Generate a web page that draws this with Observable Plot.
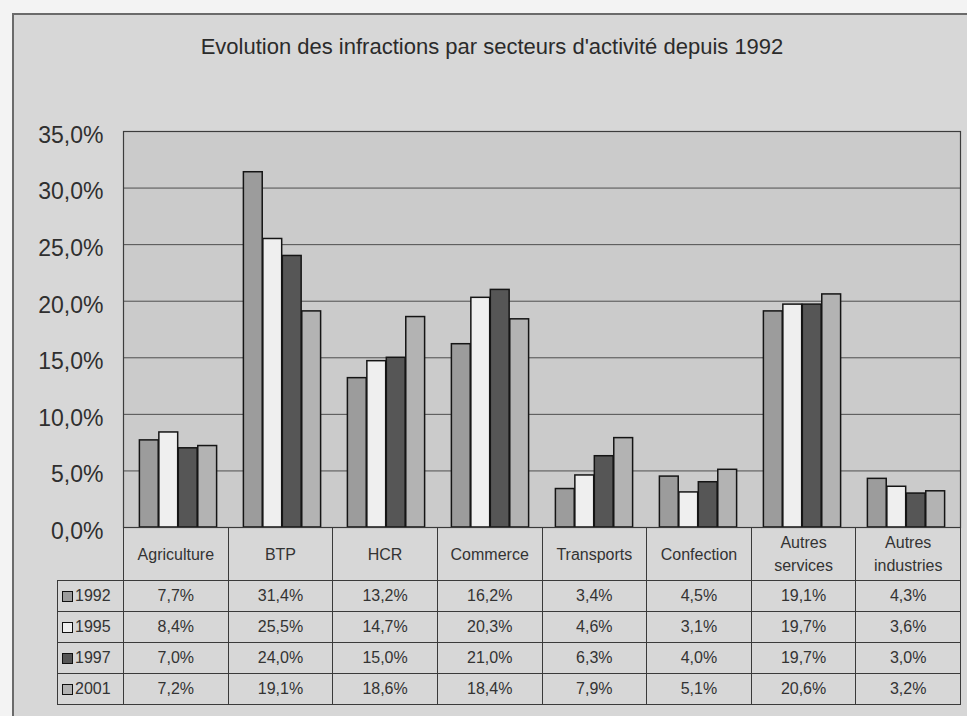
<!DOCTYPE html>
<html>
<head>
<meta charset="utf-8">
<script src="https://cdn.jsdelivr.net/npm/d3@7"></script>
<script src="https://cdn.jsdelivr.net/npm/@observablehq/plot@0.6"></script>
<style>
  html, body { margin: 0; padding: 0; }
  body { width: 967px; height: 716px; background: #f3f3f3; position: relative; overflow: hidden;
         font-family: "Liberation Sans", Arial, sans-serif; }
  #frame { position: absolute; left: 12px; top: 13px; width: 960px; height: 710px;
           background: #d7d7d7; border-left: 2px solid #6a6a6a; border-top: 2px solid #6a6a6a; }
  #title { position: absolute; left: 0; width: 984px; top: 34px; text-align: center;
           font-size: 22px; color: #2b2b2b; }
  #plot { position: absolute; left: 0; top: 0; }
  #table { position: absolute; left: 57px; top: 527px; border-collapse: collapse; table-layout: fixed;
           font-size: 16px; color: #333; }
  #table td { border: 1px solid #3a3a3a; text-align: center; padding: 0; overflow: hidden; }
  #table tr.head td { height: 52px; line-height: 23px; vertical-align: middle; }
  #table tr.row td { height: 30px; }
  #table td.leg { text-align: left; padding-left: 4px; white-space: nowrap; }
  #table .sw { display: inline-block; width: 9px; height: 9px; border: 1.5px solid #111;
               margin-right: 2px; vertical-align: -1px; }
</style>
</head>
<body>
<div id="frame"></div>
<div id="title">Evolution des infractions par secteurs d'activité depuis 1992</div>
<div id="plot"></div>
<table id="table"></table>
<script>
// ---- data ----
const sectors = ["Agriculture", "BTP", "HCR", "Commerce", "Transports", "Confection", "Autres services", "Autres industries"];
const years = ["1992", "1995", "1997", "2001"];
const v1992 = [7.7, 31.4, 13.2, 16.2, 3.4, 4.5, 19.1, 4.3];
const v1995 = [8.4, 25.5, 14.7, 20.3, 4.6, 3.1, 19.7, 3.6];
const v1997 = [7.0, 24.0, 15.0, 21.0, 6.3, 4.0, 19.7, 3.0];
const v2001 = [7.2, 19.1, 18.6, 18.4, 7.9, 5.1, 20.6, 3.2];
const yTicks = [0, 5, 10, 15, 20, 25, 30, 35];

// ---- styles ----
const seriesValues = [v1992, v1995, v1997, v2001];
const colors = ["#9c9c9c", "#efefef", "#565656", "#b3b3b3"];
const fmt = d => d.toFixed(1).replace(".", ",") + "%";

const rows = [];
years.forEach((yr, i) => sectors.forEach((s, j) => rows.push({sector: s, year: yr, value: seriesValues[i][j]})));

const W = 967, H = 552, ML = 123, MR = 7, MT = 131, MB = 25;
const bw = (W - ML - MR) / sectors.length;
const barW = bw * 0.186;
const off = (bw - 4 * barW) / 2;

const chart = Plot.plot({
  width: W, height: H,
  marginLeft: ML, marginRight: MR, marginTop: MT, marginBottom: MB,
  style: {background: "transparent", fontFamily: "'Liberation Sans', Arial, sans-serif", fontSize: "23px", color: "#2f2f2f", overflow: "visible"},
  x: {type: "band", domain: sectors, padding: 0, axis: null},
  y: {domain: [0, 35], axis: null},
  marks: [
    Plot.frame({fill: "#cbcbcb"}),
    Plot.ruleY(yTicks.filter(t => t > 0 && t < 35), {stroke: "#4e4e4e", strokeWidth: 1}),
    ...years.map((yr, i) => Plot.barY(rows.filter(r => r.year === yr), {
      x: "sector", y: "value", fill: colors[i], stroke: "#151515", strokeWidth: 1.5,
      insetLeft: off + i * barW, insetRight: bw - off - (i + 1) * barW
    })),
    Plot.frame({stroke: "#3c3c3c", strokeWidth: 1.2}),
    Plot.axisY({ticks: yTicks, tickFormat: fmt, tickSize: 0, tickPadding: 20, dy: 4, label: null, fontSize: 23})
  ]
});
document.getElementById("plot").appendChild(chart);

// ---- data table below the chart ----
const table = d3.select("#table");
const cg = table.append("colgroup");
cg.append("col").style("width", "66px");
sectors.forEach(() => cg.append("col").style("width", bw + "px"));
const head = table.append("tr").attr("class", "head");
head.append("td").style("border-top", "none").style("border-left", "none");
sectors.forEach(s => head.append("td").text(s));
years.forEach((yr, i) => {
  const tr = table.append("tr").attr("class", "row");
  const lc = tr.append("td").attr("class", "leg");
  lc.append("span").attr("class", "sw").style("background", colors[i]);
  lc.append("span").text(yr);
  seriesValues[i].forEach(v => tr.append("td").text(fmt(v)));
});
</script>
</body>
</html>
